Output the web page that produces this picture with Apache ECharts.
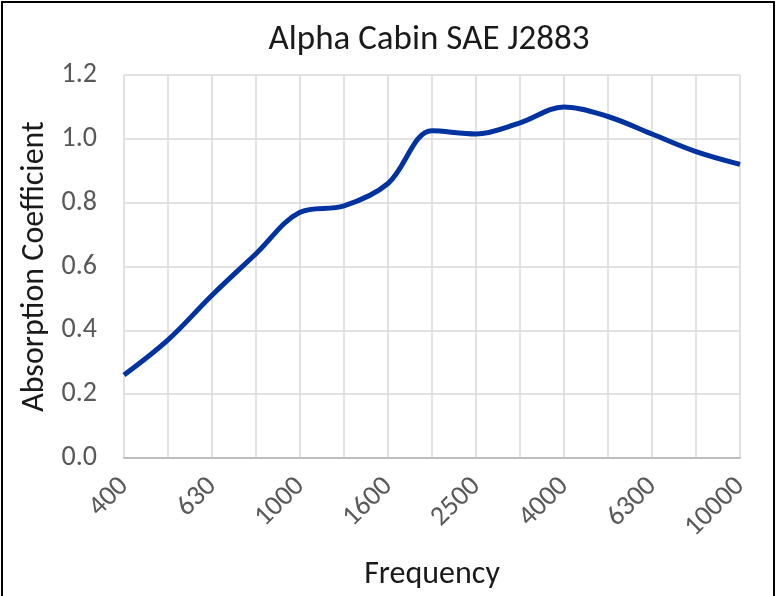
<!DOCTYPE html>
<html>
<head>
<meta charset="utf-8">
<script src="https://cdn.jsdelivr.net/npm/echarts@6/dist/echarts.min.js"></script>
<style>
  html, body { margin: 0; padding: 0; background: #fff; overflow: hidden; }
  #frame { position: absolute; left: 1px; top: 1px; width: 774px; height: 620px; border: 2px solid #000; box-sizing: border-box; }
  #chart { position: absolute; left: 0; top: 0; width: 780px; height: 596px; }
</style>
</head>
<body>
<div id="frame"></div>
<div id="chart"></div>
<script>
const frequencies = ['400', '500', '630', '800', '1000', '1250', '1600', '2000', '2500', '3150', '4000', '5000', '6300', '8000', '10000']
const alpha = [0.26, 0.37, 0.51, 0.64, 0.77, 0.79, 0.86, 1.025, 1.015, 1.05, 1.10, 1.07, 1.015, 0.96, 0.92]

const font = 'Carlito, Lato, "Liberation Sans", sans-serif'
const chart = echarts.init(document.getElementById('chart'))
chart.setOption({
  animation: false,
  title: {
    text: 'Alpha Cabin SAE J2883',
    left: 424,
    top: 18,
    textAlign: 'center',
    textStyle: { fontFamily: font, fontSize: 35, fontWeight: 'normal', color: '#1a1a1a' }
  },
  grid: { left: 124, right: 40, top: 75, bottom: 138 },
  xAxis: {
    type: 'category',
    data: frequencies,
    boundaryGap: false,
    name: 'Frequency',
    nameLocation: 'middle',
    nameGap: 101,
    nameTextStyle: { fontFamily: font, fontSize: 32, color: '#1a1a1a' },
    axisLine: { lineStyle: { color: '#bfbfbf', width: 2 } },
    axisTick: { show: false },
    axisLabel: { interval: 1, rotate: 45, fontFamily: font, fontSize: 28, color: '#595959', margin: 24 },
    splitLine: { show: true, interval: 0, lineStyle: { color: '#d9d9d9', width: 1.5 } }
  },
  yAxis: {
    type: 'value',
    min: 0,
    max: 1.2,
    interval: 0.2,
    name: 'Absorption Coefficient',
    nameLocation: 'middle',
    nameGap: 70,
    nameTextStyle: { fontFamily: font, fontSize: 32, color: '#1a1a1a' },
    axisLine: { show: false },
    axisTick: { show: false },
    axisLabel: { fontFamily: font, fontSize: 28, color: '#595959', margin: 27, formatter: v => v.toFixed(1) },
    splitLine: { lineStyle: { color: '#d9d9d9', width: 1.5 } }
  },
  series: [
    {
      name: 'Alpha',
      type: 'line',
      data: alpha,
      smooth: 0.35,
      symbol: 'none',
      lineStyle: { color: '#0033a0', width: 5 }
    }
  ]
})
</script>
</body>
</html>
